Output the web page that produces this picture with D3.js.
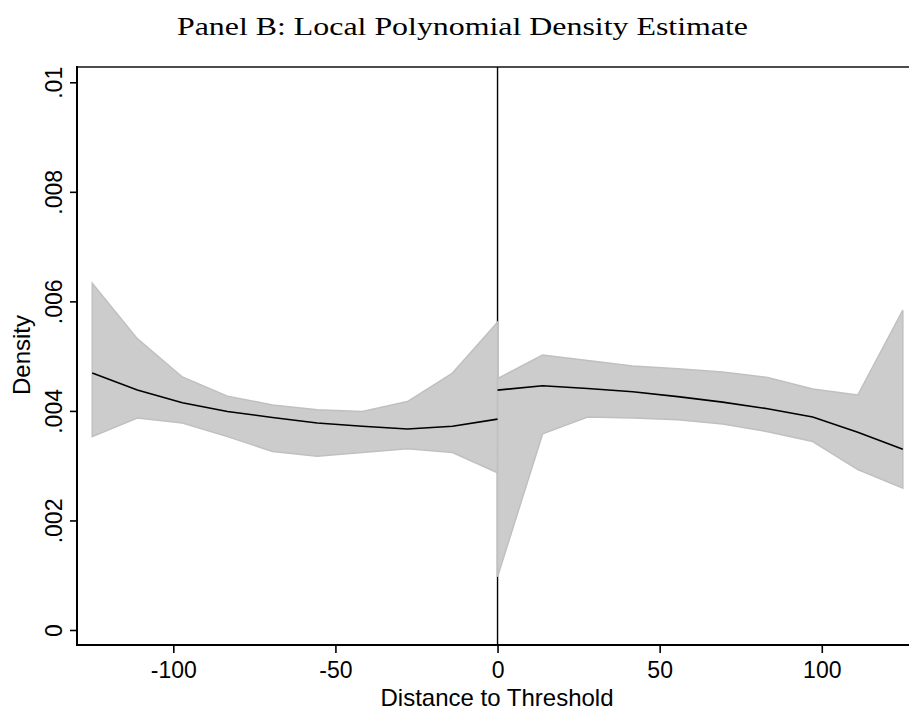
<!DOCTYPE html>
<html>
<head>
<meta charset="utf-8">
<script src="https://cdn.jsdelivr.net/npm/d3@7"></script>
<style>
  html, body { margin: 0; padding: 0; background: #fff; }
  svg { display: block; }
</style>
</head>
<body>
<svg id="chart" width="909" height="711"></svg>
<script>
// Evaluation grid on each side of the cutoff
const gridLeft  = [-125, -111.1, -97.2, -83.3, -69.4, -55.6, -41.7, -27.8, -13.9, 0];
const gridRight = [0, 13.9, 27.8, 41.7, 55.6, 69.4, 83.3, 97.2, 111.1, 125];

// Left of threshold: point estimate and confidence band
const leftEst   = [0.00469, 0.00438, 0.00415, 0.00399, 0.00388, 0.00378, 0.00372, 0.00367, 0.00372, 0.00385];
const leftLower = [0.00353, 0.00387, 0.00378, 0.00353, 0.00326, 0.00317, 0.00324, 0.00331, 0.00324, 0.00287];
const leftUpper = [0.00633, 0.00532, 0.00462, 0.00427, 0.00411, 0.00402, 0.00399, 0.00417, 0.00469, 0.00562];

// Right of threshold: point estimate and confidence band
const rightEst   = [0.00438, 0.00446, 0.00441, 0.00435, 0.00426, 0.00416, 0.00404, 0.00389, 0.00361, 0.00330];
const rightLower = [0.00097, 0.00358, 0.00389, 0.00387, 0.00384, 0.00376, 0.00362, 0.00344, 0.00293, 0.00259];
const rightUpper = [0.00459, 0.00502, 0.00492, 0.00482, 0.00477, 0.00471, 0.00461, 0.00440, 0.00429, 0.00584];

// Axis ticks
const xTicks = [-100, -50, 0, 50, 100];
const xTickLabels = ["-100", "-50", "0", "50", "100"];
const yTicks = [0, 0.002, 0.004, 0.006, 0.008, 0.01];
const yTickLabels = ["0", ".002", ".004", ".006", ".008", ".01"];

const titleText = "Panel B: Local Polynomial Density Estimate";
const xTitle = "Distance to Threshold";
const yTitle = "Density";

const svg = d3.select("#chart");
const plot = { left: 77, right: 909, top: 67, bottom: 645 };

const x = d3.scaleLinear().domain([-129.7, 126.9]).range([plot.left, plot.right]);
const y = d3.scaleLinear().domain([-0.000274, 0.010279]).range([plot.bottom, plot.top]);

const zip = (xs, lo, hi, est) => xs.map((d, i) => ({ x: d, lo: lo[i], hi: hi[i], est: est[i] }));
const left = zip(gridLeft, leftLower, leftUpper, leftEst);
const right = zip(gridRight, rightLower, rightUpper, rightEst);

// Top frame line
svg.append("line")
  .attr("x1", plot.left).attr("x2", plot.right)
  .attr("y1", plot.top).attr("y2", plot.top)
  .attr("stroke", "#111").attr("stroke-width", 1.6);

// Threshold line
svg.append("line")
  .attr("x1", x(0)).attr("x2", x(0))
  .attr("y1", plot.top).attr("y2", plot.bottom)
  .attr("stroke", "#000").attr("stroke-width", 1.4);

const area = d3.area()
  .x(d => x(d.x)).y0(d => y(d.lo)).y1(d => y(d.hi));
const line = d3.line()
  .x(d => x(d.x)).y(d => y(d.est));

[left, right].forEach(side => {
  svg.append("path")
    .datum(side)
    .attr("d", area)
    .attr("fill", "#cccccc")
    .attr("stroke", "#c0c0c0")
    .attr("stroke-width", 1.5)
    .attr("stroke-linejoin", "miter");
});
[left, right].forEach(side => {
  svg.append("path")
    .datum(side)
    .attr("d", line)
    .attr("fill", "none")
    .attr("stroke", "#000")
    .attr("stroke-width", 1.6);
});

// Axes
const font = "'Liberation Sans', Arial, Helvetica, sans-serif";

const xAxis = svg.append("g")
  .attr("transform", `translate(0,${plot.bottom})`)
  .call(d3.axisBottom(x).tickValues(xTicks).tickSize(8).tickPadding(0).tickFormat((d, i) => xTickLabels[i]));
xAxis.select(".domain").remove();
xAxis.selectAll(".tick line").attr("stroke", "#000").attr("stroke-width", 1.6);
xAxis.selectAll(".tick text")
  .attr("y", 33).attr("dy", 0)
  .attr("fill", "#000")
  .style("font-family", font).style("font-size", "23px");

const yAxis = svg.append("g")
  .attr("transform", `translate(${plot.left},0)`)
  .call(d3.axisLeft(y).tickValues(yTicks).tickSize(7).tickFormat((d, i) => yTickLabels[i]));
yAxis.select(".domain").remove();
yAxis.selectAll(".tick line").attr("stroke", "#000").attr("stroke-width", 1.6);
yAxis.selectAll(".tick text")
  .attr("x", 0).attr("dy", 0)
  .attr("transform", "translate(-15,0) rotate(-90)")
  .attr("text-anchor", "middle")
  .attr("fill", "#000")
  .style("font-family", font).style("font-size", "23px");

// Axis lines
svg.append("line")
  .attr("x1", plot.left).attr("x2", plot.left)
  .attr("y1", plot.top - 1).attr("y2", plot.bottom + 1)
  .attr("stroke", "#000").attr("stroke-width", 2);
svg.append("line")
  .attr("x1", plot.left - 1).attr("x2", plot.right)
  .attr("y1", plot.bottom).attr("y2", plot.bottom)
  .attr("stroke", "#000").attr("stroke-width", 2);

// Axis titles
svg.append("text")
  .attr("x", x(0) - 0.5).attr("y", 706)
  .attr("text-anchor", "middle")
  .style("font-family", font).style("font-size", "24px")
  .text(xTitle);

svg.append("text")
  .attr("transform", "translate(30,355) rotate(-90)")
  .attr("text-anchor", "middle")
  .style("font-family", font).style("font-size", "24px")
  .text(yTitle);

// Title
svg.append("text")
  .attr("x", 177).attr("y", 35)
  .attr("textLength", 571)
  .attr("lengthAdjust", "spacingAndGlyphs")
  .style("font-family", "'Liberation Serif', 'Times New Roman', serif")
  .style("font-size", "25px")
  .text(titleText);
</script>
</body>
</html>
